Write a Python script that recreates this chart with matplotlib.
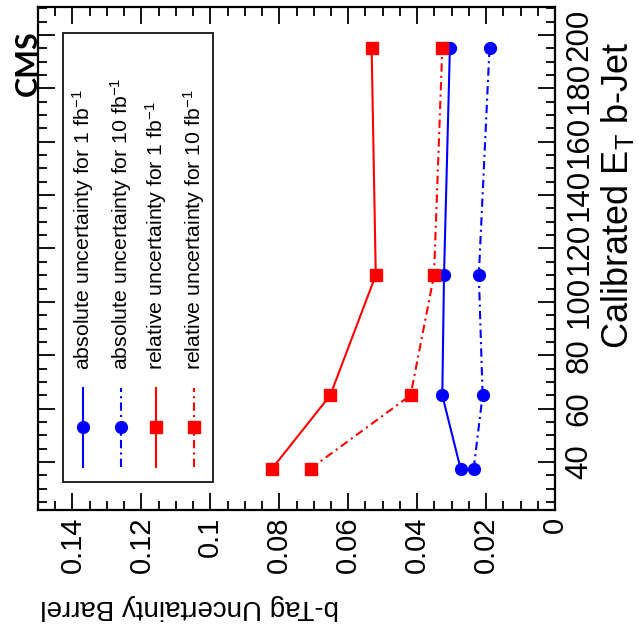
import matplotlib
matplotlib.use("Agg")
import matplotlib.pyplot as plt
from matplotlib.patches import Rectangle
from matplotlib.ticker import MultipleLocator

plt.rcParams['font.family'] = ['Liberation Sans', 'DejaVu Sans']
plt.rcParams['mathtext.fontset'] = 'custom'
plt.rcParams['mathtext.rm'] = 'Liberation Sans'
plt.rcParams['mathtext.it'] = 'Liberation Sans:italic'

# data (calibrated E_T bin centres and b-tag uncertainties, barrel)
et = [37.5, 65, 110, 195]
abs_1fb = [0.0274, 0.0327, 0.0322, 0.0305]
abs_10fb = [0.0236, 0.0210, 0.0221, 0.0190]
rel_1fb = [0.0821, 0.0652, 0.0520, 0.0532]
rel_10fb = [0.0709, 0.0419, 0.0351, 0.0327]

unc_ticks = [0, 0.02, 0.04, 0.06, 0.08, 0.1, 0.12, 0.14]
unc_labels = ['0', '0.02', '0.04', '0.06', '0.08', '0.1', '0.12', '0.14']
et_ticks = [40, 60, 80, 100, 120, 140, 160, 180, 200]

legend_labels = ['absolute uncertainty for 1 fb$^{-1}$',
                 'absolute uncertainty for 10 fb$^{-1}$',
                 'relative uncertainty for 1 fb$^{-1}$',
                 'relative uncertainty for 10 fb$^{-1}$']

dashdot = (0, (4, 2, 1, 2))
styles = [dict(color='blue', ls='-', marker='o'),
          dict(color='blue', ls=dashdot, marker='o'),
          dict(color='red', ls='-', marker='s'),
          dict(color='red', ls=dashdot, marker='s')]

fig = plt.figure(figsize=(6.39, 6.41), dpi=100)
ax = fig.add_axes([38/639, 1 - 510/641, (555 - 38)/639, (510 - 7)/641])

for vals, st in zip([abs_1fb, abs_10fb, rel_1fb, rel_10fb], styles):
    ax.plot(vals, et, color=st['color'], ls=st['ls'], marker=st['marker'],
            lw=1.5, ms=8.5, mec=st['color'], mfc=st['color'])

ax.set_xlim(0.15, 0)
ax.set_ylim(22, 210.5)

ax.set_xticks(unc_ticks)
ax.set_xticklabels(unc_labels, rotation=90, fontsize=21)
ax.xaxis.set_minor_locator(MultipleLocator(0.005))
ax.set_yticks(et_ticks)
ax.set_yticklabels([str(v) for v in et_ticks], rotation=90, va='center',
                   fontsize=22.5)
ax.yaxis.set_minor_locator(MultipleLocator(5))

ax.tick_params(which='both', direction='in', top=True, bottom=True,
               left=True, right=True, labelleft=False, labelright=True,
               width=1.3)
ax.tick_params(which='major', length=12)
ax.tick_params(which='minor', length=6.5)
ax.tick_params(axis='x', pad=5)
ax.tick_params(axis='y', pad=7)
for sp in ax.spines.values():
    sp.set_linewidth(1.6)

# axis titles (figure is rotated, so the uncertainty title reads upside down)
fig.text(190/639, 1 - 607/641, 'b-Tag Uncertainty Barrel', rotation=180,
         ha='center', va='center', fontsize=20)
fig.text(617/639, 1 - 195/641, 'Calibrated E$_{\\mathrm{T}}$ b-Jet', rotation=90,
         ha='center', va='center', fontsize=26)
fig.text(28/639, 1 - 63/641, 'CMS', rotation=90, ha='center', va='center',
         fontsize=22, fontweight='bold', family=['Lato', 'DejaVu Sans'])

# legend drawn by hand, rotated with the rest of the figure
ax.add_patch(Rectangle((0.048, 0.056), 0.29, 0.892, transform=ax.transAxes,
                       fill=False, lw=1.4, ec='#222222', zorder=5))
leg_x = [0.088, 0.160, 0.229, 0.301]
for x, st, lab in zip(leg_x, styles, legend_labels):
    ax.plot([x, x], [0.085, 0.243], transform=ax.transAxes, color=st['color'],
            ls=st['ls'], lw=1.5, zorder=6)
    ax.plot([x], [0.165], transform=ax.transAxes, color=st['color'],
            marker=st['marker'], ms=8.5, zorder=6)
    ax.text(x, 0.278, lab, transform=ax.transAxes, rotation=90,
            ha='center', va='bottom', fontsize=15.3, zorder=6)

fig.savefig('out.png', dpi=100)
